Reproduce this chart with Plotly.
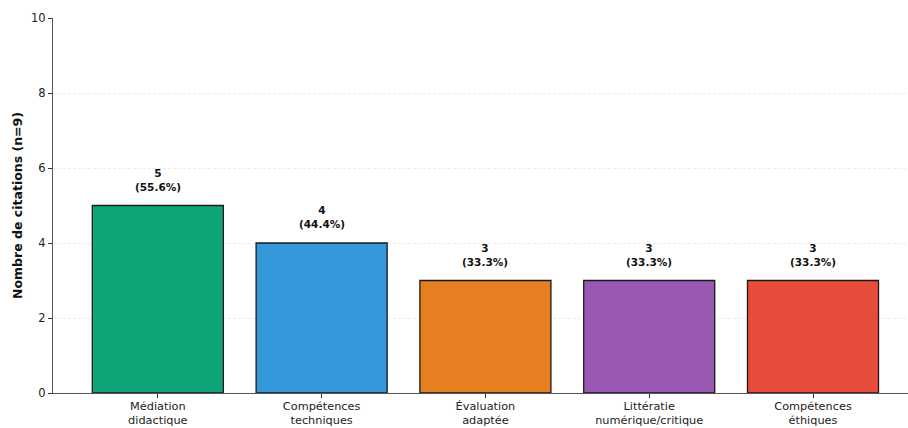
import plotly.graph_objects as go

categories = ["Médiation<br>didactique", "Compétences<br>techniques", "Évaluation<br>adaptée",
              "Littératie<br>numérique/critique", "Compétences<br>éthiques"]
values = [5, 4, 3, 3, 3]
n_total = 9
colors = ["#0EA678", "#3498DB", "#E67E22", "#9B59B6", "#E74C3C"]
y_ticks = [0, 2, 4, 6, 8, 10]

FONT = "DejaVu Sans"

fig = go.Figure()
fig.add_trace(go.Bar(
    x=list(range(len(categories))),
    y=values,
    width=0.8,
    marker=dict(color=colors, line=dict(color="#1a1a1a", width=1.3)),
    hoverinfo="skip",
))

for i, v in enumerate(values):
    fig.add_annotation(
        x=i, y=v, yanchor="bottom", yshift=11, showarrow=False,
        text=f"<b>{v}<br>({v / n_total * 100:.1f}%)</b>",
        font=dict(family=FONT, size=10.5, color="#111"),
        align="center",
    )

fig.update_layout(
    width=908, height=428,
    margin=dict(l=53, r=0, t=18, b=35),
    paper_bgcolor="white", plot_bgcolor="white",
    showlegend=False,
    font=dict(family=FONT, size=12, color="#222"),
    bargap=0.2,
)
fig.update_xaxes(
    range=[-0.64, 4.58],
    tickmode="array", tickvals=list(range(len(categories))), ticktext=categories,
    ticks="outside", ticklen=4, tickcolor="#333",
    showline=True, linecolor="#555", linewidth=1,
    showgrid=False, zeroline=False, automargin=False,
    ticklabelstandoff=-2,
    tickfont=dict(family=FONT, size=11.3, color="#222"),
)
fig.update_yaxes(
    range=[0, 10],
    tickmode="array", tickvals=y_ticks,
    ticks="outside", ticklen=4, tickcolor="#333",
    showline=True, linecolor="#555", linewidth=1,
    showgrid=True, gridcolor="#ebebeb", griddash="3px,2px", gridwidth=1,
    zeroline=False, automargin=False,
    tickfont=dict(family=FONT, size=11.5, color="#222"),
    title=dict(text="<b>Nombre de citations (n=9)</b>", font=dict(family=FONT, size=12.5, color="#111"), standoff=5),
)

fig.write_html("out.html")
